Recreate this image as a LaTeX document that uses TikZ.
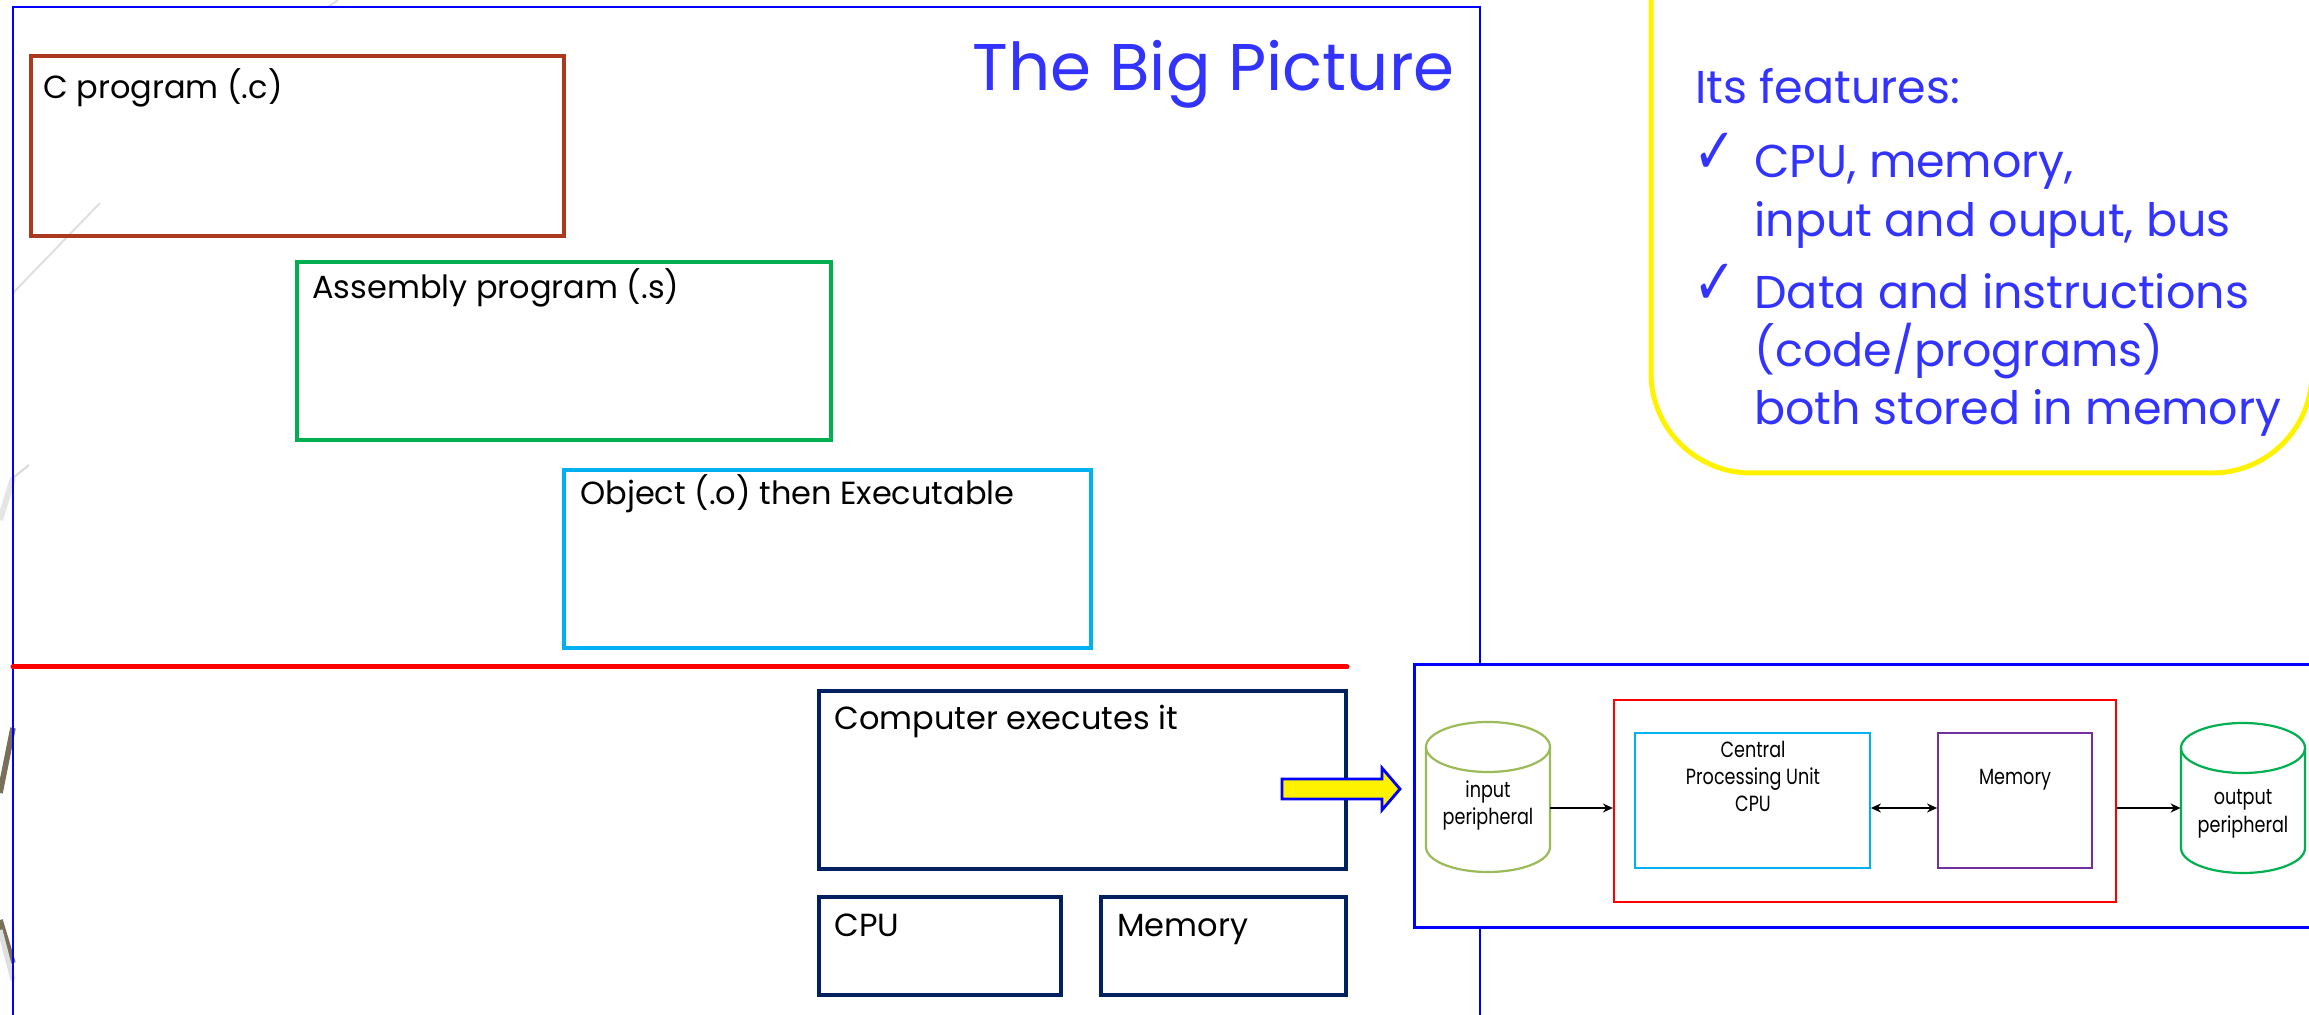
\documentclass[tikz,border=0pt]{standalone}
\usepackage{fontspec}
\setmainfont{Poppins}
\newfontfamily\narrowf[FakeStretch=0.8]{Poppins}
\newfontfamily\djv{DejaVu Sans}
\usetikzlibrary{arrows.meta,fit}
\definecolor{framebl}{RGB}{0,0,255}
\definecolor{titlebl}{RGB}{51,51,255}
\definecolor{cbrown}{RGB}{170,57,30}
\definecolor{cgreen}{RGB}{0,176,80}
\definecolor{clblue}{RGB}{0,176,240}
\definecolor{cnavy}{RGB}{0,32,96}
\definecolor{colive}{RGB}{155,187,89}
\definecolor{cpurple}{RGB}{112,48,160}
\definecolor{decogray}{RGB}{120,112,90}
\tikzset{
  stagebox/.style={draw, line width=1.8pt, inner sep=0pt},
  boxlabel/.style={anchor=base west, inner sep=0pt, font=\fontsize{16}{19}\selectfont},
  smallbox/.style={draw, line width=0.9pt, inner sep=0pt},
  difont/.style={font=\narrowf\fontsize{11}{13.5}\selectfont, align=center, inner sep=0pt},
  conn/.style={line width=1.2pt, -{Stealth[length=5pt,width=4.5pt]}},
  feat/.style={anchor=base west, inner sep=0pt, text=titlebl, font=\fontsize{23}{28}\selectfont},
  chk/.style={anchor=base west, inner sep=0pt, text=titlebl, font=\djv\bfseries\fontsize{32}{34}\selectfont}
}
\begin{document}
\begin{tikzpicture}[x=0.5pt,y=-0.5pt]
\useasboundingbox (0,0) rectangle (2309,1015);
\clip (0,0) rectangle (2309,1015);
% background decoration
\draw[gray!25, line width=1pt] (338,0) -- (328,7);
\draw[gray!25, line width=1pt] (100,203) -- (13,293);
\draw[gray!30, line width=1pt] (29,465) -- (13,478);
\draw[gray!20, line width=3pt] (13,478) -- (0,520);
\draw[decogray, line width=2.8pt] (0,793) -- (13,728);
\draw[decogray, line width=2.8pt] (0,920) -- (13,963);
\draw[gray!25, line width=2.5pt] (0,930) -- (13,980);
% main frame
\draw[framebl, line width=1.1pt] (13,1030) -- (13,7) -- (1480,7) -- (1480,1030);
% title
\node[anchor=base east, inner sep=0pt, text=titlebl, font=\fontsize{33}{38}\selectfont] (title) at (1455,91) {The Big Picture};
% stage boxes
\node[stagebox, draw=cbrown, fit={(31,56) (564,236)}] (cprog) {};
\node[boxlabel] (cprogl) at (43,99) {C program (.c)};
\node[stagebox, draw=cgreen, fit={(297,262) (831,440)}] (asm) {};
\node[boxlabel] (asml) at (312,299) {Assembly program (.s)};
\node[stagebox, draw=clblue, fit={(564,470) (1091,648)}] (obj) {};
\node[boxlabel] (objl) at (580,505) {Object (.o) then Executable};
\draw[red, line width=2.5pt, line cap=round] (13,667) -- (1347,667);
\node[stagebox, draw=cnavy, fit={(819,691) (1346,869)}] (exec) {};
\node[boxlabel] (execl) at (834,730) {Computer executes it};
\node[stagebox, draw=cnavy, fit={(819,897) (1061,995)}] (cpu) {};
\node[boxlabel] (cpul) at (834,936) {CPU};
\node[stagebox, draw=cnavy, fit={(1101,897) (1346,995)}] (mem) {};
\node[boxlabel] (meml) at (1117,936) {Memory};
% yellow block arrow
\draw[framebl, fill=yellow, line width=1.4pt, line join=miter]
  (1282,779) -- (1382,779) -- (1382,768) -- (1400,789) -- (1382,810) -- (1382,799) -- (1282,799) -- cycle;
% right diagram
\draw[framebl, line width=1.5pt, fill=white] (1414,665) rectangle (2340,927);
\node[smallbox, draw=red, line width=1.1pt, fit={(1614,700) (2116,902)}] (sys) {};
\node[smallbox, draw=clblue, fit={(1635,733) (1870,868)}] (dcpu) {};
\node[smallbox, draw=cpurple, fit={(1938,733) (2092,868)}] (dmem) {};
\node[difont, anchor=north] (dcput) at (1753,741) {Central\\Processing Unit\\CPU};
\node[difont, anchor=base] (dmemt) at (2015,784) {Memory};
% cylinders
\draw[colive, line width=1.1pt] (1488,747) ellipse [x radius=62, y radius=25];
\draw[colive, line width=1.1pt] (1426,747) -- (1426,847) arc[start angle=180, end angle=0, x radius=62, y radius=25] -- (1550,747);
\node[inner sep=0pt, fit={(1426,722) (1550,872)}] (inp) {};
\node[difont, anchor=base] (inpt) at (1488,825) {input\\peripheral};
\draw[cgreen, line width=1.1pt] (2243,748) ellipse [x radius=62, y radius=25];
\draw[cgreen, line width=1.1pt] (2181,748) -- (2181,848) arc[start angle=180, end angle=0, x radius=62, y radius=25] -- (2305,748);
\node[inner sep=0pt, fit={(2181,723) (2305,873)}] (outp) {};
\node[difont, anchor=base] (outpt) at (2243,832) {output\\peripheral};
% connectors
\draw[conn] (inp.east |- 0,808) -- (sys.west |- 0,808);
\draw[conn, {Stealth[length=5pt,width=4.5pt]}-{Stealth[length=5pt,width=4.5pt]}] (dcpu.east |- 0,808) -- (dmem.west |- 0,808);
\draw[conn] (sys.east |- 0,808) -- (outp.west |- 0,808);
% callout
\draw[yellow, line width=2.5pt, rounded corners=50pt] (1651,-60) -- (1651,473) -- (2312,473) -- (2312,-60);
\node[feat] (f0) at (1695,104) {Its features:};
\node[chk] (c1) at (1693,174) {\scalebox{0.8}[1]{✓}};
\node[feat] (f1) at (1754,178) {CPU, memory,};
\node[feat] (f2) at (1754,237) {input and ouput, bus};
\node[chk] (c2) at (1693,305) {\scalebox{0.8}[1]{✓}};
\node[feat] (f3) at (1754,309) {Data and instructions};
\node[feat] (f4) at (1754,367) {(code/programs)};
\node[feat] (f5) at (1754,425) {both stored in memory};
\end{tikzpicture}
\end{document}
